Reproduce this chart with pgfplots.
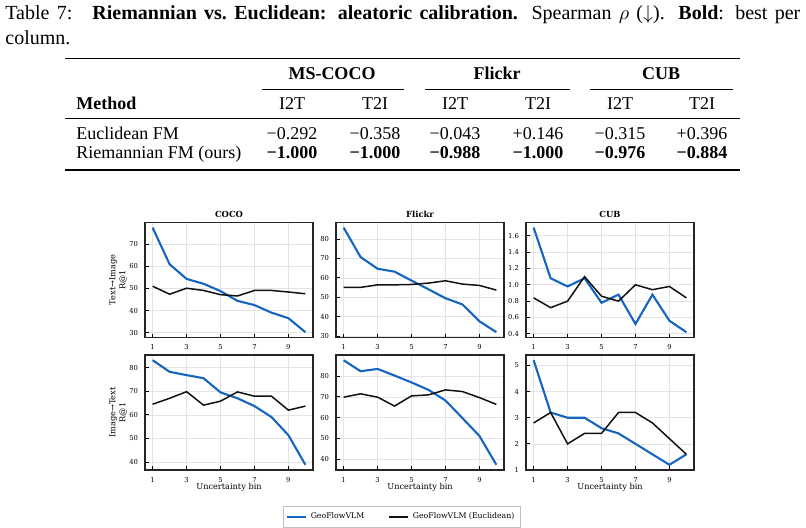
\documentclass[border=0pt]{standalone}
\usepackage{fontspec}
\setmainfont{Liberation Serif}
\newfontfamily\djs{DejaVu Serif}
\usepackage{pgfplots}
\usepackage{pgfplotstable}
\pgfplotsset{compat=1.18}
\definecolor{geoblue}{HTML}{1565C0}
\definecolor{euc}{HTML}{111111}

\pgfplotstableread{
x geo euc
1 77.4 51.0
2 60.9 47.4
3 54.3 50.1
4 52.1 49.1
5 48.8 47.2
6 44.4 46.6
7 42.5 49.1
8 39.1 49.1
9 36.6 48.4
10 30.3 47.6
}\cocoT
\pgfplotstableread{
x geo euc
1 85.9 55.1
2 70.7 55.1
3 64.7 56.4
4 63.2 56.4
5 58.6 56.6
6 54.1 57.3
7 49.5 58.5
8 46.3 56.8
9 37.6 56.1
10 32.0 53.7
}\flickrT
\pgfplotstableread{
x geo euc
1 1.70 0.84
2 1.08 0.72
3 0.98 0.80
4 1.08 1.10
5 0.78 0.86
6 0.88 0.80
7 0.52 1.00
8 0.88 0.94
9 0.56 0.98
10 0.42 0.84
}\cubT
\pgfplotstableread{
x geo euc
1 83.1 64.5
2 78.2 67.0
3 76.8 69.8
4 75.5 64.1
5 69.5 65.8
6 67.0 69.7
7 63.7 67.9
8 59.1 67.9
9 51.4 62.0
10 38.9 63.7
}\cocoI
\pgfplotstableread{
x geo euc
1 87.7 69.9
2 82.4 71.5
3 83.5 69.9
4 80.3 65.6
5 77.0 70.5
6 73.4 71.0
7 68.3 73.4
8 59.8 72.6
9 51.2 69.7
10 37.3 66.4
}\flickrI
\pgfplotstableread{
x geo euc
1 5.2 2.8
2 3.2 3.2
3 3.0 2.0
4 3.0 2.4
5 2.6 2.4
6 2.4 3.2
7 2.0 3.2
8 1.6 2.8
9 1.2 2.2
10 1.6 1.6
}\cubI

\pgfplotsset{
  panel/.style={
    scale only axis, width=84pt, height=57.5pt, anchor=north west,
    xmin=0.55, xmax=10.45, enlarge y limits=0.05,
    xtick={1,3,5,7,9},
    tick align=inside, xtick pos=left, ytick pos=left,
    major tick length=1.8pt,
    tick style={line width=0.45pt, black},
    axis line style={line width=0.7pt, black!85},
    grid=major, major grid style={line width=0.35pt, black!11},
    tick label style={font=\djs\fontsize{3.4}{4}\selectfont, black},
    /pgf/number format/assume math mode=true,
    label style={font=\djs\fontsize{4.1}{4.9}\selectfont},
    every axis title/.style={font=\djs\bfseries\fontsize{4.2}{5}\selectfont, at={(axis description cs:0.5,1.07)}, anchor=center},
    xlabel style={at={(axis description cs:0.5,-0.15)}, anchor=center},
    ylabel style={align=center, at={(axis description cs:-0.16,0.5)}, anchor=center},
    legend image code/.code={\draw[##1] (0pt,0pt) -- (9.5pt,0pt);},
  },
  geo/.style={geoblue, line width=1.05pt, no markers},
  eu/.style={euc, line width=0.75pt, no markers},
}

\begin{document}
\begin{tikzpicture}
\useasboundingbox (0,0) rectangle (403pt,-264pt);
% caption
\node[anchor=base west, inner sep=0pt] at (2.5pt,-10pt) {\fontsize{10}{12}\selectfont\makebox[397.5pt][s]{Table 7:\quad \textbf{Riemannian vs.\ Euclidean: aleatoric calibration.} Spearman $\rho$ ($\downarrow$). \textbf{Bold}: best per}};
\node[anchor=base west, inner sep=0pt] at (2.5pt,-22.5pt) {\fontsize{10}{12}\selectfont column.};
% table rules
\draw[line width=0.75pt] (32.5pt,-29.25pt) -- (370pt,-29.25pt);
\draw[line width=0.3pt] (131pt,-44.5pt) -- (202pt,-44.5pt);
\draw[line width=0.3pt] (212.5pt,-44.5pt) -- (285pt,-44.5pt);
\draw[line width=0.3pt] (295pt,-44.5pt) -- (366.5pt,-44.5pt);
\draw[line width=0.45pt] (32.5pt,-59pt) -- (370pt,-59pt);
\draw[line width=0.75pt] (32.5pt,-85pt) -- (370pt,-85pt);
\begin{scope}[every node/.style={inner sep=0pt, font=\fontsize{9}{11}\selectfont}]
\node[anchor=base] at (166pt,-40pt) {\textbf{MS-COCO}};
\node[anchor=base] at (248.5pt,-40pt) {\textbf{Flickr}};
\node[anchor=base] at (330.5pt,-40pt) {\textbf{CUB}};
\node[anchor=base west] at (38pt,-55pt) {\textbf{Method}};
\node[anchor=base] at (146pt,-55pt) {I2T};
\node[anchor=base] at (187.5pt,-55pt) {T2I};
\node[anchor=base] at (227.5pt,-55pt) {I2T};
\node[anchor=base] at (269pt,-55pt) {T2I};
\node[anchor=base] at (310pt,-55pt) {I2T};
\node[anchor=base] at (351pt,-55pt) {T2I};
\node[anchor=base west] at (38pt,-70pt) {Euclidean FM};
\node[anchor=base] at (146pt,-70pt) {−0.292};
\node[anchor=base] at (187.5pt,-70pt) {−0.358};
\node[anchor=base] at (227.5pt,-70pt) {−0.043};
\node[anchor=base] at (269pt,-70pt) {+0.146};
\node[anchor=base] at (310pt,-70pt) {−0.315};
\node[anchor=base] at (351pt,-70pt) {+0.396};
\node[anchor=base west] at (38pt,-79.5pt) {Riemannian FM (ours)};
\node[anchor=base] at (146pt,-79.5pt) {\textbf{−1.000}};
\node[anchor=base] at (187.5pt,-79.5pt) {\textbf{−1.000}};
\node[anchor=base] at (227.5pt,-79.5pt) {\textbf{−0.988}};
\node[anchor=base] at (269pt,-79.5pt) {\textbf{−1.000}};
\node[anchor=base] at (310pt,-79.5pt) {\textbf{−0.976}};
\node[anchor=base] at (351pt,-79.5pt) {\textbf{−0.884}};
\end{scope}
% row 1
\begin{axis}[panel, at={(72.5pt,-111.2pt)}, title={COCO}, ylabel={Text→Image\\R@1}, ytick={30,40,50,60,70}]
\addplot[geo] table[x=x,y=geo]{\cocoT};
\addplot[eu] table[x=x,y=euc]{\cocoT};
\end{axis}
\begin{axis}[panel, at={(168pt,-111.2pt)}, title={Flickr}, ytick={30,40,50,60,70,80}]
\addplot[geo] table[x=x,y=geo]{\flickrT};
\addplot[eu] table[x=x,y=euc]{\flickrT};
\end{axis}
\begin{axis}[panel, at={(263pt,-111.2pt)}, title={CUB}, ytick={0.4,0.6,...,1.6},
  yticklabel style={/pgf/number format/.cd, fixed, fixed zerofill, precision=1}]
\addplot[geo] table[x=x,y=geo]{\cubT};
\addplot[eu] table[x=x,y=euc]{\cubT};
\end{axis}
% row 2
\begin{axis}[panel, at={(72.5pt,-177.5pt)}, xlabel={Uncertainty bin}, ylabel={Image→Text\\R@1}, ytick={40,50,60,70,80}]
\addplot[geo] table[x=x,y=geo]{\cocoI};
\addplot[eu] table[x=x,y=euc]{\cocoI};
\end{axis}
\begin{axis}[panel, at={(168pt,-177.5pt)}, xlabel={Uncertainty bin}, ytick={40,50,60,70,80},
  legend columns=2,
  legend style={at={(axis description cs:0.393,-0.315)}, anchor=north, draw=black!25, line width=0.4pt,
    font=\djs\fontsize{3.9}{4.7}\selectfont, inner sep=1pt,
    /tikz/every even column/.append style={column sep=10pt}}]
\addplot[geo] table[x=x,y=geo]{\flickrI};
\addlegendentry{GeoFlowVLM}
\addplot[eu] table[x=x,y=euc]{\flickrI};
\addlegendentry{GeoFlowVLM (Euclidean)}
\end{axis}
\begin{axis}[panel, at={(263pt,-177.5pt)}, xlabel={Uncertainty bin}, ytick={1,2,3,4,5}]
\addplot[geo] table[x=x,y=geo]{\cubI};
\addplot[eu] table[x=x,y=euc]{\cubI};
\end{axis}
\end{tikzpicture}
\end{document}
